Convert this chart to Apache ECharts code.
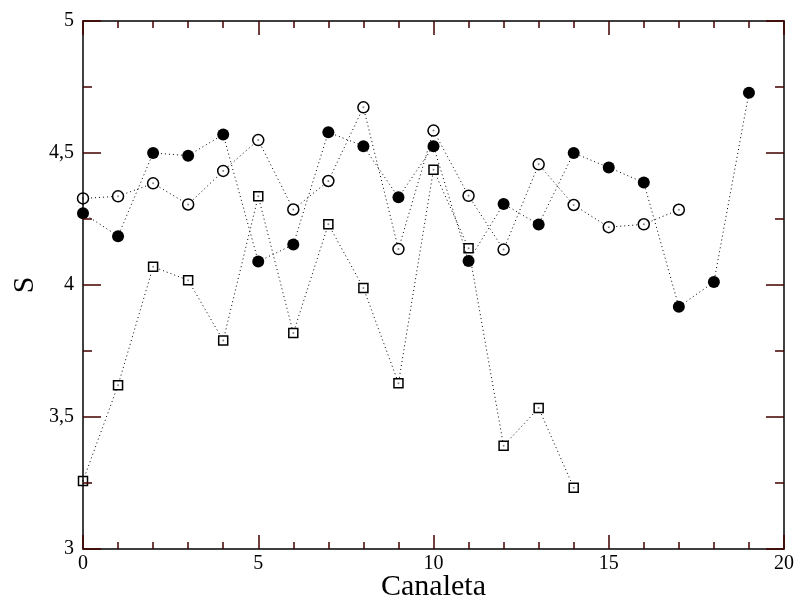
<!DOCTYPE html>
<html>
<head>
<meta charset="utf-8">
<script src="https://cdn.jsdelivr.net/npm/echarts@6/dist/echarts.min.js"></script>
<style>html,body{margin:0;padding:0;background:#fff;}#c{width:800px;height:602px;}</style>
</head>
<body>
<div id="c"></div>
<script>
// Data
const channelsFilled = [0,1,2,3,4,5,6,7,8,9,10,11,12,13,14,15,16,17,18,19];
const valuesFilled = [4.272,4.185,4.50,4.49,4.57,4.089,4.153,4.579,4.526,4.332,4.526,4.091,4.307,4.229,4.50,4.445,4.388,3.918,4.011,4.728];

const channelsOpen = [0,1,2,3,4,5,6,7,8,9,10,11,12,13,14,15,16,17];
const valuesOpen = [4.328,4.336,4.385,4.305,4.432,4.549,4.286,4.394,4.673,4.136,4.585,4.338,4.134,4.457,4.303,4.219,4.23,4.285];

const channelsSquare = [0,1,2,3,4,5,6,7,8,9,10,11,12,13,14];
const valuesSquare = [3.258,3.62,4.069,4.018,3.79,4.336,3.818,4.23,3.989,3.628,4.437,4.139,3.391,3.534,3.232];

const xTicks = [0,5,10,15,20];
const yTicks = [3,3.5,4,4.5,5];
const xTitle = 'Canaleta';
const yTitle = 'S';

const pairs = (xs, ys) => xs.map((x, i) => [x, ys[i]]);
const font = 'Liberation Serif';
const fmt = v => String(v).replace('.', ',');
const tickColor = '#400';

function makeAxis(pos, showLabel, majLen, minLen, interval, split, min, max) {
  return {
    type: 'value', position: pos, min: min, max: max, interval: interval, z: 10,
    axisLine: { show: true, onZero: false, lineStyle: { color: '#000', width: 1.5 } },
    axisTick: { show: true, inside: true, length: majLen, lineStyle: { color: tickColor, width: 1.5 } },
    minorTick: { show: true, splitNumber: split, length: minLen, lineStyle: { color: tickColor, width: 1.5 } },
    splitLine: { show: false },
    axisLabel: showLabel
      ? { show: true, color: '#000', fontFamily: font, fontSize: 20, margin: pos === 'left' ? 9 : 5, formatter: fmt }
      : { show: false }
  };
}

const xMin = xTicks[0], xMax = xTicks[xTicks.length - 1];
const yMin = yTicks[0], yMax = yTicks[yTicks.length - 1];

const xBottom = Object.assign(makeAxis('bottom', true, 14, 7, 5, 5, xMin, xMax), {
  name: xTitle, nameLocation: 'middle', nameGap: 23, nameMoveOverlap: false,
  nameTextStyle: { color: '#000', fontFamily: font, fontSize: 30 }
});
const xTop = makeAxis('top', false, 14, 7, 5, 5, xMin, xMax);
const yLeft = Object.assign(makeAxis('left', true, 18, 9, 0.5, 2, yMin, yMax), {
  name: yTitle, nameLocation: 'middle', nameGap: 43, nameRotate: 90, nameMoveOverlap: false,
  nameTextStyle: { color: '#000', fontFamily: font, fontSize: 30 }
});
const yRight = makeAxis('right', false, 18, 9, 0.5, 2, yMin, yMax);

const chart = echarts.init(document.getElementById('c'), null, { renderer: 'canvas' });
const lineStyle = { color: '#000', width: 1, type: [1, 3] };

chart.setOption({
  animation: false,
  backgroundColor: '#fff',
  grid: { left: 83, right: 16, top: 21, bottom: 53, containLabel: false, outerBoundsMode: 'none' },
  xAxis: [xBottom, xTop],
  yAxis: [yLeft, yRight],
  series: [
    {
      type: 'line', data: pairs(channelsSquare, valuesSquare), symbol: 'rect', symbolSize: 9,
      lineStyle: lineStyle, itemStyle: { color: '#fff', borderColor: '#000', borderWidth: 1.5 }, z: 3
    },
    {
      type: 'line', data: pairs(channelsOpen, valuesOpen), symbol: 'circle', symbolSize: 11,
      lineStyle: lineStyle, itemStyle: { color: '#fff', borderColor: '#000', borderWidth: 1.5 }, z: 3
    },
    {
      type: 'line', data: pairs(channelsFilled, valuesFilled), symbol: 'circle', symbolSize: 12,
      lineStyle: lineStyle, itemStyle: { color: '#000', borderColor: '#000', borderWidth: 0 }, z: 4
    },
    {
      type: 'scatter', data: pairs(channelsSquare, valuesSquare).concat(pairs(channelsOpen, valuesOpen)),
      symbol: 'circle', symbolSize: 2, itemStyle: { color: '#666' }, z: 5, silent: true
    }
  ]
});
</script>
</body>
</html>
